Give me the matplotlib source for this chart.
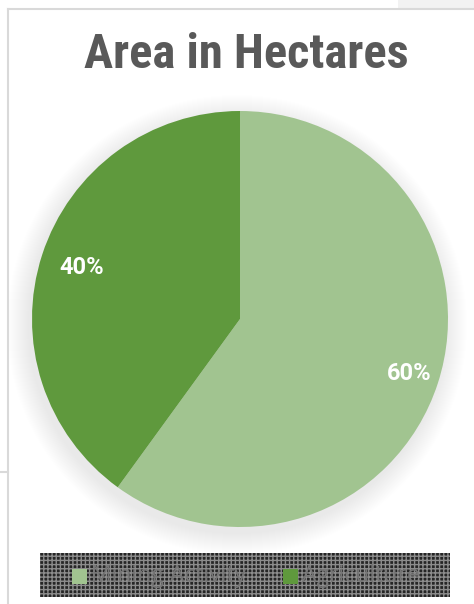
import numpy as np
import matplotlib.pyplot as plt
from matplotlib.patches import Rectangle, Circle

categories = ['Mining Activity', 'Agriculture']
values = [60, 40]
colors = ['#a1c490', '#5f993d']
title = 'Area in Hectares'

W, H = 474, 604
fig = plt.figure(figsize=(W / 100, H / 100), dpi=100)
fig.patch.set_facecolor('white')
ax = fig.add_axes([0, 0, 1, 1])
ax.set_xlim(0, W)
ax.set_ylim(0, H)

narrow = ['Roboto Condensed', 'DejaVu Sans']
legfont = ['Open Sans', 'DejaVu Sans']

# outside stuff / border of the chart
ax.add_patch(Rectangle((398, H - 9), W - 398, 9, facecolor='#f2f2f2', edgecolor='none'))
ax.plot([8, W], [H - 9, H - 9], color='#d9d9d9', lw=1.5)
ax.plot([8, 8], [0, H - 9], color='#d9d9d9', lw=1.5)
ax.plot([0, 8], [H - 472, H - 472], color='#d9d9d9', lw=1.5)

# soft shadow
cx, cy, r = 240, H - 319, 208
for k in range(22):
    ax.add_patch(Circle((cx - 3, cy - 6), r + 22 - k, facecolor='black',
                        edgecolor='none', alpha=0.0035))

wedges, texts, autotexts = ax.pie(values, colors=colors, startangle=90, counterclock=False,
                                  center=(cx, cy), radius=r, frame=True,
                                  autopct='%1.0f%%', pctdistance=0.83,
                                  textprops=dict(color='white', fontsize=17, fontweight='bold',
                                                 family=['Roboto', 'DejaVu Sans']))
# nudge labels a little like the original
for w, t, d in zip(wedges, autotexts, [0.855, 0.80]):
    a = np.deg2rad((w.theta1 + w.theta2) / 2)
    t.set_position((cx + d * r * np.cos(a), cy + d * r * np.sin(a)))

ax.set_xlim(0, W)
ax.set_ylim(0, H)
ax.set_aspect('auto')
ax.axis('off')

ax.text(246, H - 55, title, ha='center', va='center', fontsize=35, fontweight='bold',
        color='#595959', family=narrow)

# legend with dark patterned background
ax.add_patch(Rectangle((40, 7), 410, 44, facecolor='#262626', edgecolor='#8c8c8c',
                       hatch='++++', lw=0))
lx = [72, 283]
for x, c, lab in zip(lx, colors, categories):
    ax.add_patch(Rectangle((x, 20), 15, 15, facecolor=c, edgecolor='none'))
    ax.text(x + 19, 28, lab, ha='left', va='center', fontsize=16.5, color='#767676',
            family=legfont)

fig.savefig('out.png', dpi=100)
